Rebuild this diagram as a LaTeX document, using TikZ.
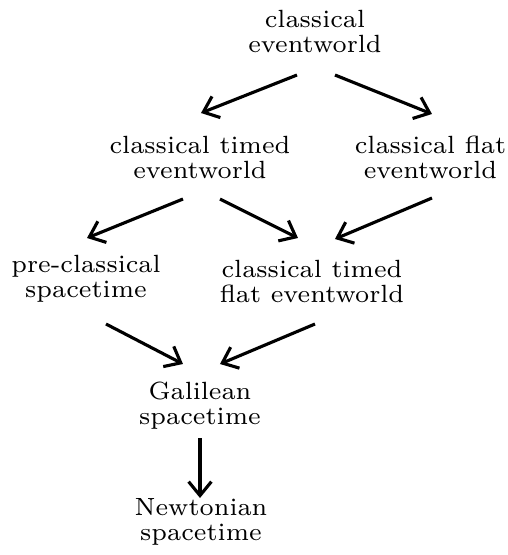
\documentclass[tikz,border=0pt]{standalone}
\usetikzlibrary{arrows.meta}
\begin{document}
\begin{tikzpicture}[x=0.2811pt,y=-0.2811pt,
  lbl/.style={align=center,inner sep=0pt,font=\fontsize{7}{7.03}\selectfont},
  arr/.style={line width=0.88pt,-{Straight Barb[length=3.9pt,width=6.4pt,line width=0.88pt]}}]
\useasboundingbox (0,0) rectangle (508,555);
\node[lbl] (T) at (315,31) {classical\\eventworld};
\node[lbl] (ct) at (200,157) {classical timed\\eventworld};
\node[lbl] (cf) at (430.5,157) {classical flat\\eventworld};
\node[lbl] (pc) at (86,278.5) {pre-classical\\spacetime};
\node[lbl] (ctf) at (312,281.5) {classical timed\\flat eventworld};
\node[lbl] (gal) at (200,406) {Galilean\\spacetime};
\node[lbl] (new) at (201,521.5) {Newtonian\\spacetime};
\draw[arr] ([shift={(-18,44)}]T.center) -- ([shift={(1,-44)}]ct.center);
\draw[arr] ([shift={(20,44)}]T.center) -- ([shift={(1.5,-43)}]cf.center);
\draw[arr] ([shift={(-17,42)}]ct.center) -- ([shift={(1,-40.5)}]pc.center);
\draw[arr] ([shift={(20,42)}]ct.center) -- ([shift={(-14,-43.5)}]ctf.center);
\draw[arr] ([shift={(1.5,41)}]cf.center) -- ([shift={(23,-42.5)}]ctf.center);
\draw[arr] ([shift={(20,45.5)}]pc.center) -- ([shift={(-17,-42)}]gal.center);
\draw[arr] ([shift={(3,42.5)}]ctf.center) -- ([shift={(20,-42)}]gal.center);
\draw[arr] ([shift={(0,32)}]gal.center) -- ([shift={(-1,-23.5)}]new.center);
\end{tikzpicture}
\end{document}
